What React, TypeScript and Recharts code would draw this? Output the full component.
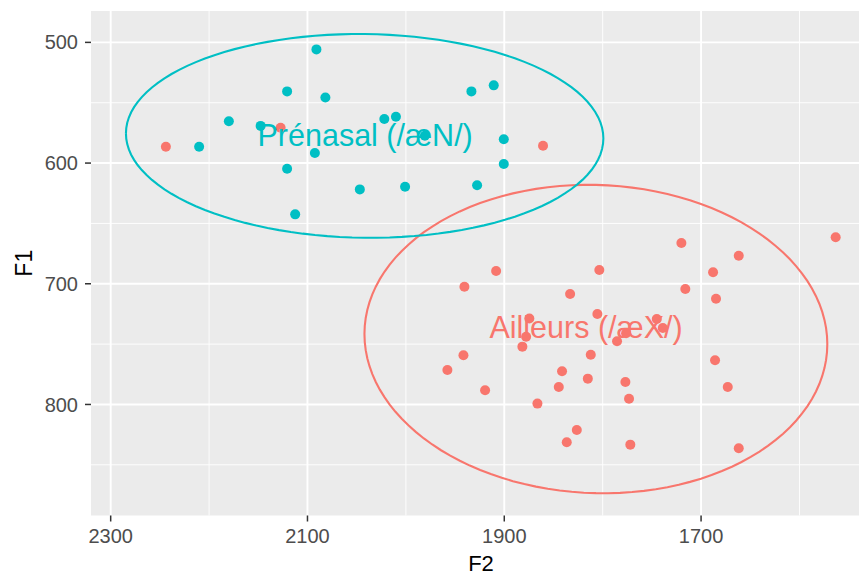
import React from "react";
import { ScatterChart, Scatter, XAxis, YAxis, ZAxis, CartesianGrid, ReferenceLine, Label } from "recharts";

// ---- Data ----
const prenasalF2 = [2090.9, 2120.7, 2081.8, 1933.4, 1910.7, 2179.9, 2147.6, 2021.9, 2010.1, 1980.7, 1900.5, 2210.1, 2092.5, 2120.7, 1900.5, 2046.8, 2000.8, 1927.6, 2112.5];
const prenasalF1 = [505.8, 540.6, 545.6, 540.6, 535.6, 565.4, 569.2, 563.5, 561.6, 577.4, 580.3, 586.5, 591.7, 604.7, 600.8, 621.8, 619.6, 618.4, 642.5];

const ailleursF2 = [2243.9, 2127.3, 1860.6, 1563.2, 1720.0, 1661.7, 1908.3, 1803.4, 1687.8, 1940.5, 1833.1, 1716.0, 1684.8, 1805.4, 1874.5, 1877.8, 1881.6, 1745.0, 1738.9, 1776.2, 1785.4, 1941.5, 1957.8, 1812.1, 1685.8, 1841.3, 1815.1, 1844.6, 1776.9, 1919.5, 1672.9, 1866.3, 1773.2, 1826.3, 1836.5, 1771.9, 1661.7];
const ailleursF1 = [586.5, 570.7, 585.6, 661.5, 666.2, 676.8, 689.4, 688.6, 690.5, 702.4, 708.5, 704.3, 712.4, 725.0, 728.8, 743.9, 752.1, 729.2, 736.6, 741.0, 747.6, 759.3, 771.4, 758.8, 763.4, 772.5, 778.6, 785.5, 781.4, 788.2, 785.5, 799.3, 795.2, 821.1, 831.3, 833.3, 836.3];

// ellipse parameters (centre F2, centre F1, half-width F2, half-height F1, tilt)
const prenasalEllipse = { cx: 2041.9, cy: 577.5, a: 242.6, b: 84.4, shear: -0.0085 };
const ailleursEllipse = { cx: 1806.9, cy: 745.8, a: 235.2, b: 127.7, shear: -0.0176 };

const groupLabels = ["Prénasal (/æN/)", "Ailleurs (/æX/)"];
const labelF2 = [2041.4, 1816.9];
const labelF1 = [577.0, 735.5];

const xTicks = [2300, 2100, 1900, 1700];
const xMinor = [2200, 2000, 1800, 1600];
const yTicks = [500, 600, 700, 800];
const yMinor = [550, 650, 750, 850];
const xDomain = [1539.5, 2320];
const yDomain = [474, 892];

// ---- Styles ----
const TEAL = "#00BFC4";
const RED = "#F8766D";
const FONT = "'Liberation Sans', Arial, Helvetica, sans-serif";

const toPoints = (xs: number[], ys: number[]) => xs.map((f2, i) => ({ f2, f1: ys[i] }));
const prenasalData = toPoints(prenasalF2, prenasalF1);
const ailleursData = toPoints(ailleursF2, ailleursF1);

function ellipsePath(e: { cx: number; cy: number; a: number; b: number; shear: number }) {
  const pts: { f2: number; f1: number }[] = [];
  const N = 120;
  for (let i = 0; i <= N; i++) {
    const t = (2 * Math.PI * i) / N;
    const dx = e.a * Math.cos(t);
    pts.push({ f2: e.cx + dx, f1: e.cy + e.b * Math.sin(t) + e.shear * dx });
  }
  return pts;
}
const prenasalEllipseData = ellipsePath(prenasalEllipse);
const ailleursEllipseData = ellipsePath(ailleursEllipse);

const labelData = groupLabels.map((text, i) => ({ f2: labelF2[i], f1: labelF1[i], text, color: i === 0 ? TEAL : RED }));

const NoShape = () => <g />;

const Dot = (props: any) => {
  const { cx, cy, fill } = props;
  if (cx == null || cy == null) return <g />;
  return <circle cx={cx} cy={cy} r={5} fill={fill} />;
};

const TextShape = (props: any) => {
  const { cx, cy, payload } = props;
  if (cx == null || cy == null) return <g />;
  return (
    <text x={cx} y={cy} dy="0.36em" textAnchor="middle" fontSize={30.5} fontFamily={FONT} fill={payload.color}>
      {payload.text}
    </text>
  );
};

const XTitle = (props: any) => {
  const vb = props.viewBox || { x: 91, y: 515.5, width: 768, height: 59.5 };
  return (
    <text x={vb.x + vb.width / 2 + 6} y={vb.y + 55} textAnchor="middle" fontSize={22} fontFamily={FONT} fill="#000">
      F2
    </text>
  );
};

const YTitle = (props: any) => {
  const vb = props.viewBox || { x: 0, y: 11, width: 91, height: 504.5 };
  const x = 32;
  const y = vb.y + vb.height / 2;
  return (
    <text x={x} y={y} transform={`rotate(-90 ${x} ${y})`} textAnchor="middle" fontSize={23} fontFamily={FONT} fill="#000">
      F1
    </text>
  );
};

export default function App() {
  return (
    <div style={{ position: "absolute", left: 0, top: 0, width: 859, height: 575, background: "#fff" }}>
      <ScatterChart width={859} height={575} margin={{ top: 11, right: 0, bottom: 0, left: 0 }}>
        <CartesianGrid fill="#EBEBEB" horizontal={false} vertical={false} stroke="none" />
        <XAxis
          type="number"
          dataKey="f2"
          domain={xDomain}
          reversed
          allowDataOverflow
          ticks={xTicks}
          height={59.5}
          axisLine={false}
          tickSize={6}
          tickMargin={7}
          tickLine={{ stroke: "#333333", strokeWidth: 1.5 }}
          tick={{ fill: "#4D4D4D", fontSize: 20, fontFamily: FONT }}
          label={<Label content={XTitle} />}
        />
        <YAxis
          type="number"
          dataKey="f1"
          domain={yDomain}
          reversed
          allowDataOverflow
          ticks={yTicks}
          width={91}
          axisLine={false}
          tickSize={6}
          tickMargin={7}
          tickLine={{ stroke: "#333333", strokeWidth: 1.5 }}
          tick={{ fill: "#4D4D4D", fontSize: 20, fontFamily: FONT }}
          label={<Label content={YTitle} />}
        />
        <ZAxis range={[80, 80]} />
        {xMinor.map((v) => (
          <ReferenceLine key={"xm" + v} x={v} stroke="#FFFFFF" strokeWidth={0.9} />
        ))}
        {yMinor.map((v) => (
          <ReferenceLine key={"ym" + v} y={v} stroke="#FFFFFF" strokeWidth={0.9} />
        ))}
        {xTicks.map((v) => (
          <ReferenceLine key={"xM" + v} x={v} stroke="#FFFFFF" strokeWidth={1.9} />
        ))}
        {yTicks.map((v) => (
          <ReferenceLine key={"yM" + v} y={v} stroke="#FFFFFF" strokeWidth={1.9} />
        ))}
        <Scatter data={ailleursData} fill={RED} shape={Dot} isAnimationActive={false} />
        <Scatter data={prenasalData} fill={TEAL} shape={Dot} isAnimationActive={false} />
        <Scatter
          data={ailleursEllipseData}
          line={{ stroke: RED, strokeWidth: 2.1 }}
          lineType="joint"
          shape={NoShape}
          fill="none"
          isAnimationActive={false}
        />
        <Scatter
          data={prenasalEllipseData}
          line={{ stroke: TEAL, strokeWidth: 2.1 }}
          lineType="joint"
          shape={NoShape}
          fill="none"
          isAnimationActive={false}
        />
        <Scatter data={labelData} shape={TextShape} isAnimationActive={false} />
      </ScatterChart>
    </div>
  );
}
